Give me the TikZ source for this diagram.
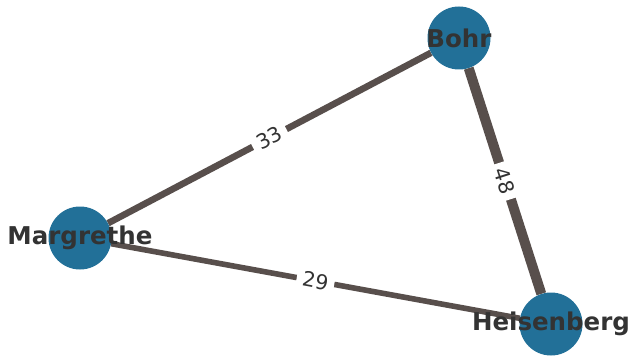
\documentclass[tikz,border=0pt]{standalone}
\usepackage{fontspec}
\setmainfont{DejaVu Sans}
\usetikzlibrary{backgrounds}
\definecolor{nodeblue}{RGB}{34,112,152}
\definecolor{edgegray}{RGB}{88,79,76}
\definecolor{txtgray}{RGB}{51,51,51}
\tikzset{
  person/.style={circle, fill=nodeblue, minimum size=63pt, inner sep=0pt},
  namelab/.style={font=\fontsize{24.5}{28}\selectfont\bfseries, text=txtgray},
  link/.style={draw=edgegray},
  weight/.style={midway, sloped, fill=white, inner xsep=6pt, inner ysep=3pt, text=txtgray, font=\fontsize{20.5}{24}\selectfont}
}
\begin{document}
\begin{tikzpicture}[x=1pt,y=1pt]
\useasboundingbox (0,0) rectangle (630,357);
\node[person, label={[namelab]center:Bohr}] (bohr) at (459,319) {};
\node[person, label={[namelab]center:Margrethe}] (marg) at (80,119) {};
\node[person, label={[namelab]center:Heisenberg}] (heis) at (551,33) {};
\begin{pgfonlayer}{background}
\draw[link, line width=6.6pt] (marg) -- node[weight] {33} (bohr);
\draw[link, line width=10pt] (bohr) -- node[weight] {48} (heis);
\draw[link, line width=5.6pt] (marg) -- node[weight] {29} (heis);
\end{pgfonlayer}
\end{tikzpicture}
\end{document}
